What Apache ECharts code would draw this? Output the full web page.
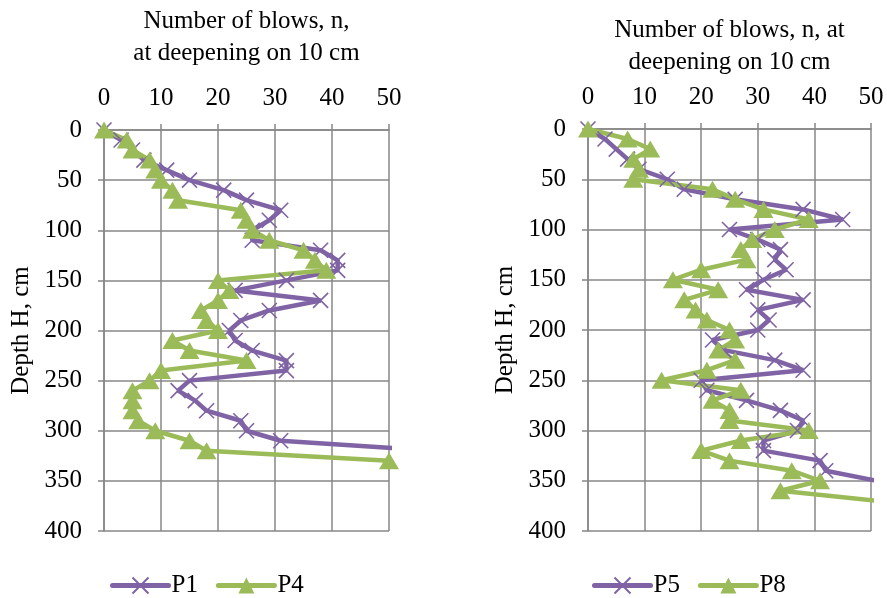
<!DOCTYPE html>
<html><head><meta charset="utf-8">
<script src="https://cdn.jsdelivr.net/npm/echarts/dist/echarts.min.js"></script>
<style>html,body{margin:0;padding:0;background:#fff}#c{width:887px;height:598px}</style>
</head><body><div id="c"></div>
<script>
// ---- data (depth in cm, number of blows n) ----
const depthP1 = [0,10,20,30,40,50,60,70,80,90,100,110,120,130,140,150,160,170,180,190,200,210,220,230,240,250,260,270,280,290,300,310,320];
const blowsP1 = [0,3,5,7,11,15,21,25,31,29,26,26,38,41,41,32,23,38,29,24,22,23,26,32,32,15,13,16,18,24,25,31,58];
const depthP4 = [0,10,20,30,40,50,60,70,80,90,100,110,120,130,140,150,160,170,180,190,200,210,220,230,240,250,260,270,280,290,300,310,320,330];
const blowsP4 = [0,4,5,8,9,10,12,13,24,25,26,29,35,37,39,20,22,20,17,18,20,12,15,25,10,8,5,5,5,6,9,15,18,50];
const depthP5 = [0,10,20,30,40,50,60,70,80,90,100,110,120,130,140,150,160,170,180,190,200,210,220,230,240,250,260,270,280,290,300,310,320,330,340,350];
const blowsP5 = [0,3,5,7,9,14,17,26,38,45,25,30,34,33,35,31,28,38,30,32,30,22,24,33,38,20,21,28,34,38,37,31,31,41,42,51];
const depthP8 = [0,10,20,30,40,50,60,70,80,90,100,110,120,130,140,150,160,170,180,190,200,210,220,230,240,250,260,270,280,290,300,310,320,330,340,350,360,370];
const blowsP8 = [0,7,11,8,9,8,22,26,31,39,33,29,27,28,20,15,23,17,19,21,25,26,23,26,21,13,27,22,25,25,39,27,20,25,36,41,34,51];
const seriesNames = ['P1','P4','P5','P8'];
const xTitleLeft = 'Number of blows, n,\nat deepening on 10 cm';
const xTitleRight = 'Number of blows, n, at\ndeepening on 10 cm';
const yTitle = 'Depth H, cm';

const FONT = "'Liberation Serif','Times New Roman',serif";
const FS = 25;
const GRID = '#878787';
const PURPLE = '#7F63A5';
const GREEN = '#9BBB59';
const XSYM = 'path://M0,0L10,10M10,0L0,10';

function xAx(gi, name, gap){
  return {gridIndex:gi, type:'value', position:'top', min:0, max:50, interval:10,
    name:name, nameLocation:'middle', nameGap:gap,
    nameTextStyle:{fontFamily:FONT, fontSize:FS, color:'#000', lineHeight:32},
    axisLine:{show:true, onZero:false, lineStyle:{color:GRID, width:1.5}},
    axisTick:{show:true, length:6, lineStyle:{color:GRID, width:1.5}},
    splitLine:{show:true, lineStyle:{color:GRID, width:1.5}},
    axisLabel:{fontFamily:FONT, fontSize:FS, color:'#000', margin:19}};
}
function yAx(gi){
  return {gridIndex:gi, type:'value', inverse:true, min:0, max:400, interval:50,
    name:yTitle, nameLocation:'middle', nameGap:70, nameRotate:90,
    nameTextStyle:{fontFamily:FONT, fontSize:FS, color:'#000'},
    axisLine:{show:true, onZero:false, lineStyle:{color:GRID, width:1.5}},
    axisTick:{show:true, length:6, lineStyle:{color:GRID, width:1.5}},
    splitLine:{show:true, lineStyle:{color:GRID, width:1.5}},
    axisLabel:{fontFamily:FONT, fontSize:FS, color:'#000', margin:22}};
}
function ser(name, gi, depths, blows, kind){
  const isX = kind === 'x';
  const color = isX ? PURPLE : GREEN;
  return {name:name, type:'line', xAxisIndex:gi, yAxisIndex:gi,
    data: depths.map((d,i)=>[blows[i], d]),
    symbol: isX ? XSYM : 'triangle',
    symbolSize: isX ? 15 : [20,17],
    showAllSymbol:true, clip:true,
    lineStyle:{color:color, width:4.5},
    itemStyle: isX ? {color:PURPLE, borderColor:PURPLE, borderWidth:1.6} : {color:GREEN, borderWidth:0},
    emphasis:{disabled:true}, animation:false};
}
const legendText = {fontFamily:FONT, fontSize:FS, color:'#000', padding:[0,0,0,-2]};
const legendLine = {width:5, cap:'round'};
const chart = echarts.init(document.getElementById('c'), null, {renderer:'canvas'});
chart.setOption({
  animation:false,
  backgroundColor:'#fff',
  grid:[{left:104, top:129, width:285, height:402},
        {left:588, top:129, width:283, height:402}],
  xAxis:[xAx(0, xTitleLeft, 61), xAx(1, xTitleRight, 51)],
  yAxis:[yAx(0), yAx(1)],
  legend:[
    {data:[seriesNames[0], seriesNames[1]], left:105, top:568, itemWidth:56, itemHeight:20, itemGap:18, textStyle:legendText, lineStyle:legendLine},
    {data:[seriesNames[2], seriesNames[3]], left:587, top:568, itemWidth:56, itemHeight:20, itemGap:18, textStyle:legendText, lineStyle:legendLine}
  ],
  series:[
    ser(seriesNames[0], 0, depthP1, blowsP1, 'x'),
    ser(seriesNames[1], 0, depthP4, blowsP4, 't'),
    ser(seriesNames[2], 1, depthP5, blowsP5, 'x'),
    ser(seriesNames[3], 1, depthP8, blowsP8, 't')
  ]
});
</script></body></html>
